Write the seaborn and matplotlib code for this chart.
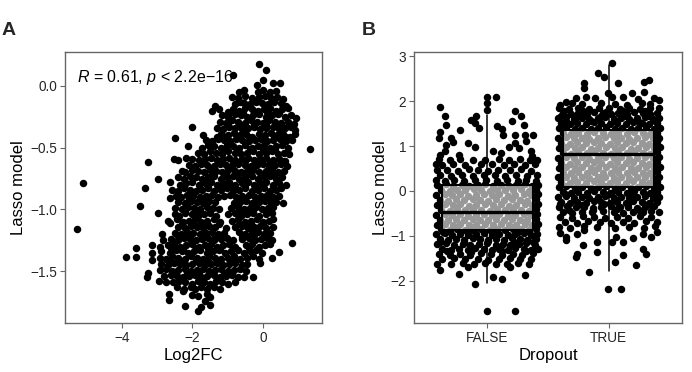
import matplotlib
matplotlib.use("Agg")
import matplotlib.pyplot as plt
import seaborn as sns
import pandas as pd

# ---------------- Panel A data: Log2FC vs Lasso model ----------------
log2fc = [
    -0.10, 0.10, 0.00, -0.84, -0.18, 0.48, 0.30,
    -0.54, 0.00, 0.20, -0.14, 0.38, -0.68,
    -0.89, -0.70, -0.50, -0.30, -0.12, 0.05, 0.22, 0.40, 0.58,
    -1.37, -0.80, -0.66, -0.55, -0.38, -0.20, -0.02, 0.15, 0.32, 0.50, 0.66,
    -1.45, -1.25, -0.98, -0.85, -0.68, -0.50, -0.32, -0.15, 0.02, 0.20, 0.38, 0.55, 0.72,
    -1.15, -0.98, -0.80, -0.62, -0.45, -0.28, -0.10, 0.08, 0.26, 0.44, 0.62, 0.80, 0.95,
    -1.22, -1.05, -0.88, -0.70, -0.52, -0.35, -0.18, 0.00, 0.18, 0.35, 0.52, 0.70, 0.88,
    -2.02, -1.30, -1.12, -0.95, -0.78, -0.60, -0.42, -0.25, -0.08, 0.10, 0.28, 0.45, 0.62, 0.80, 0.92,
    -1.69, -1.31, -1.18, -1.00, -0.83, -0.65, -0.48, -0.30, -0.12, 0.05, 0.22, 0.40, 0.58, 0.76, 0.90,
    -2.50, -1.62, -1.45, -1.28, -1.10, -0.92, -0.75, -0.58, -0.40, -0.22, -0.05, 0.12, 0.30, 0.48, 0.65, 0.82,
    -2.12, -1.72, -1.55, -1.38, -1.20, -1.02, -0.85, -0.68, -0.50, -0.32, -0.15, 0.02, 0.20, 0.38, 0.55, 0.72, 1.33,
    -1.85, -1.68, -1.50, -1.32, -1.15, -0.98, -0.80, -0.62, -0.45, -0.28, -0.10, 0.08, 0.25, 0.42, 0.60, 0.74,
    -2.53, -2.41, -2.17, -2.00, -1.82, -1.65, -1.48, -1.30, -1.12, -0.95, -0.78, -0.60, -0.42, -0.25, -0.08, 0.10, 0.28, 0.45, 0.62,
    -3.25, -2.10, -1.92, -1.75, -1.58, -1.40, -1.22, -1.05, -0.88, -0.70, -0.52, -0.35, -0.18, 0.00, 0.18, 0.35, 0.52, 0.68,
    -2.31, -2.20, -2.02, -1.85, -1.68, -1.50, -1.32, -1.15, -0.98, -0.80, -0.62, -0.45, -0.28, -0.10, 0.08, 0.25, 0.42, 0.60,
    -2.97, -2.40, -2.25, -2.08, -1.90, -1.72, -1.55, -1.38, -1.20, -1.02, -0.85, -0.68, -0.50, -0.32, -0.15, 0.02, 0.20, 0.38, 0.55,
    -5.10, -2.64, -2.35, -2.18, -2.00, -1.82, -1.65, -1.48, -1.30, -1.12, -0.95, -0.78, -0.60, -0.42, -0.25, -0.08, 0.10, 0.28, 0.45, 0.67,
    -3.35, -2.58, -2.42, -2.25, -2.08, -1.90, -1.72, -1.55, -1.38, -1.20, -1.02, -0.85, -0.68, -0.50, -0.32, -0.15, 0.02, 0.20, 0.38, 0.52,
    -2.64, -2.48, -2.32, -2.15, -1.98, -1.80, -1.62, -1.45, -1.28, -1.10, -0.92, -0.75, -0.58, -0.40, -0.22, -0.05, 0.12, 0.30, 0.45,
    -2.40, -2.22, -2.05, -1.88, -1.70, -1.52, -1.35, -0.82, -0.65, -0.48, -0.30, -0.12, 0.05, 0.22, 0.38, 0.56,
    -3.49, -2.50, -2.30, -2.12, -1.95, -1.78, -1.60, -1.42, -1.25, -0.90, -0.72, -0.55, -0.38, -0.20, -0.02, 0.15, 0.30,
    -2.99, -2.50, -2.38, -2.20, -2.02, -1.85, -1.68, -1.50, -1.32, -0.98, -0.80, -0.62, -0.45, -0.28, -0.10, 0.08, 0.25,
    -2.69, -2.45, -2.28, -2.10, -1.92, -1.75, -1.58, -1.40, -1.22, -0.88, -0.70, -0.52, -0.35, -0.18, 0.00, 0.18, 0.30,
    -5.29, -2.64, -2.40, -2.22, -2.05, -1.88, -1.70, -1.52, -1.35, -1.05, -0.78, -0.60, -0.42, -0.25, -0.08, 0.10, 0.28,
    -2.87, -2.50, -2.32, -2.15, -1.98, -1.80, -1.62, -1.45, -1.28, -1.10, -0.68, -0.50, -0.32, -0.15, 0.02, 0.20,
    -2.83, -2.60, -2.42, -2.25, -2.08, -1.90, -1.72, -1.55, -1.38, -1.20, -1.02, -0.85, -0.58, -0.40, -0.22, -0.05, 0.12, 0.27,
    -3.16, -3.60, -2.92, -2.70, -2.52, -2.35, -2.18, -2.00, -1.82, -1.65, -1.48, -1.30, -1.12, -0.95, -0.78, -0.48, -0.30, -0.12, 0.05, 0.20, 0.83,
    -3.16, -2.88, -2.65, -2.48, -2.30, -2.12, -1.95, -1.78, -1.60, -1.42, -1.25, -1.08, -0.90, -0.72, -0.55, -0.38, -0.20, -0.02, 0.45,
    -3.89, -3.60, -2.92, -2.75, -2.58, -2.40, -2.22, -2.05, -1.88, -1.70, -1.52, -1.35, -1.18, -1.00, -0.82, -0.65, -0.45, -0.28, -0.10, 0.26,
    -3.16, -2.88, -2.70, -2.52, -2.35, -2.18, -2.00, -1.82, -1.65, -1.48, -1.30, -1.12, -0.95, -0.78, -0.60, -0.45, -0.08,
    -2.92, -2.75, -2.58, -2.40, -2.22, -2.05, -1.88, -1.70, -1.52, -1.35, -1.18, -1.00, -0.82, -0.65, -0.48,
    -3.25, -3.28, -2.80, -2.62, -2.45, -2.28, -2.10, -1.92, -1.75, -1.58, -1.40, -1.22, -1.05, -0.88, -0.70, -0.55, -0.27,
    -2.95, -2.75, -2.55, -2.38, -2.20, -2.02, -1.85, -1.68, -1.50, -1.32, -1.15, -0.98, -0.80,
    -2.45, -2.24, -2.05, -1.93, -1.75, -1.58, -1.40, -1.22,
    -2.67, -2.02, -1.60, -1.50, -2.26, -1.85,
    -2.67, -2.21, -1.83, -1.77, -1.50, -1.65,
    # denser core
    -0.90, -0.56, -0.23, 0.11, 0.46,
    -1.00, -0.61, -0.26, 0.10, 0.44, 0.75,
    -1.09, -0.74, -0.39, -0.04, 0.31, 0.66,
    -1.11, -0.71, -0.36, -0.01, 0.33,
    -1.21, -0.86, -0.51, -0.16, 0.19, 0.53,
    -1.41, -1.06, -0.71, -0.36, -0.01, 0.33,
    -1.56, -1.21, -0.86, -0.51, -0.16, 0.28,
    -2.10, -1.71, -0.56, -0.21, 0.14,
    -2.21, -1.86, -1.51, -0.63, -0.29,
    -2.31, -1.96, -1.61, -1.26, -0.69, -0.34, 0.01,
    -2.41, -2.06, -1.71, -1.36, -0.59, -0.24,
    -2.61, -2.26, -1.91, -1.56, -1.21, -0.86, -0.39,
    -2.61, -2.26, -1.91, -1.56, -1.21, -0.86,
    -2.51, -2.16, -1.81, -1.46, -1.11,
]
lasso_a = [
    0.18, 0.13, 0.05, 0.09, 0.01, 0.02, 0.02,
    -0.03, -0.03, -0.05, -0.05, -0.04, -0.05,
    -0.09, -0.10, -0.08, -0.10, -0.09, -0.08, -0.10, -0.09, -0.11,
    -0.16, -0.15, -0.13, -0.14, -0.15, -0.13, -0.14, -0.15, -0.13, -0.14, -0.16,
    -0.20, -0.19, -0.21, -0.19, -0.20, -0.18, -0.19, -0.20, -0.19, -0.18, -0.20, -0.19, -0.18,
    -0.24, -0.25, -0.23, -0.24, -0.25, -0.24, -0.23, -0.25, -0.24, -0.23, -0.25, -0.24, -0.26,
    -0.29, -0.30, -0.28, -0.29, -0.30, -0.28, -0.29, -0.30, -0.28, -0.29, -0.30, -0.29, -0.31,
    -0.33, -0.34, -0.35, -0.33, -0.34, -0.35, -0.34, -0.33, -0.35, -0.34, -0.33, -0.35, -0.34, -0.33, -0.36,
    -0.40, -0.41, -0.39, -0.40, -0.38, -0.40, -0.39, -0.41, -0.39, -0.40, -0.38, -0.40, -0.39, -0.41, -0.39,
    -0.42, -0.44, -0.45, -0.43, -0.44, -0.45, -0.43, -0.44, -0.45, -0.44, -0.43, -0.45, -0.44, -0.43, -0.45, -0.44,
    -0.49, -0.50, -0.48, -0.49, -0.50, -0.48, -0.49, -0.50, -0.48, -0.50, -0.49, -0.48, -0.50, -0.49, -0.48, -0.50, -0.51,
    -0.54, -0.55, -0.53, -0.54, -0.55, -0.53, -0.54, -0.55, -0.54, -0.53, -0.55, -0.54, -0.53, -0.55, -0.54, -0.55,
    -0.59, -0.60, -0.58, -0.59, -0.60, -0.59, -0.58, -0.60, -0.59, -0.58, -0.60, -0.59, -0.58, -0.60, -0.59, -0.58, -0.60, -0.59, -0.61,
    -0.62, -0.64, -0.65, -0.63, -0.64, -0.65, -0.63, -0.64, -0.65, -0.63, -0.64, -0.65, -0.64, -0.63, -0.65, -0.64, -0.63, -0.65,
    -0.69, -0.70, -0.68, -0.69, -0.70, -0.68, -0.69, -0.70, -0.68, -0.69, -0.70, -0.69, -0.68, -0.70, -0.69, -0.68, -0.70, -0.69,
    -0.75, -0.74, -0.75, -0.73, -0.74, -0.75, -0.74, -0.73, -0.75, -0.74, -0.73, -0.75, -0.74, -0.73, -0.75, -0.74, -0.73, -0.75, -0.74,
    -0.79, -0.78, -0.80, -0.79, -0.78, -0.80, -0.79, -0.78, -0.80, -0.79, -0.78, -0.80, -0.79, -0.78, -0.80, -0.79, -0.78, -0.80, -0.79, -0.80,
    -0.83, -0.84, -0.85, -0.83, -0.84, -0.85, -0.84, -0.83, -0.85, -0.84, -0.83, -0.85, -0.84, -0.83, -0.85, -0.84, -0.83, -0.85, -0.84, -0.83,
    -0.91, -0.89, -0.90, -0.88, -0.89, -0.90, -0.89, -0.88, -0.90, -0.89, -0.88, -0.90, -0.89, -0.88, -0.90, -0.89, -0.88, -0.90, -0.89,
    -0.94, -0.95, -0.93, -0.94, -0.95, -0.93, -0.94, -0.95, -0.94, -0.93, -0.95, -0.94, -0.93, -0.95, -0.94, -0.95,
    -0.97, -0.99, -1.00, -0.98, -0.99, -1.00, -0.98, -0.99, -1.00, -0.99, -0.98, -1.00, -0.99, -0.98, -1.00, -0.99, -0.98,
    -1.03, -1.04, -1.05, -1.03, -1.04, -1.05, -1.04, -1.03, -1.05, -1.04, -1.03, -1.05, -1.04, -1.03, -1.05, -1.04, -1.03,
    -1.09, -1.08, -1.10, -1.09, -1.08, -1.10, -1.09, -1.08, -1.10, -1.09, -1.08, -1.10, -1.09, -1.08, -1.10, -1.09, -1.08,
    -1.155, -1.11, -1.14, -1.15, -1.13, -1.14, -1.15, -1.13, -1.14, -1.15, -1.14, -1.13, -1.15, -1.14, -1.13, -1.15, -1.14,
    -1.20, -1.19, -1.20, -1.18, -1.19, -1.20, -1.19, -1.18, -1.20, -1.19, -1.18, -1.20, -1.19, -1.18, -1.20, -1.19,
    -1.25, -1.24, -1.25, -1.23, -1.24, -1.25, -1.24, -1.23, -1.25, -1.24, -1.23, -1.25, -1.24, -1.23, -1.25, -1.24, -1.23, -1.25,
    -1.29, -1.31, -1.30, -1.29, -1.28, -1.30, -1.29, -1.28, -1.30, -1.29, -1.28, -1.30, -1.29, -1.28, -1.30, -1.29, -1.28, -1.30, -1.29, -1.28, -1.27,
    -1.35, -1.34, -1.35, -1.33, -1.34, -1.35, -1.34, -1.33, -1.35, -1.34, -1.33, -1.35, -1.34, -1.33, -1.35, -1.34, -1.33, -1.35, -1.345,
    -1.385, -1.385, -1.39, -1.40, -1.38, -1.39, -1.40, -1.38, -1.39, -1.40, -1.38, -1.39, -1.40, -1.39, -1.38, -1.40, -1.39, -1.38, -1.40, -1.39,
    -1.41, -1.44, -1.45, -1.43, -1.44, -1.45, -1.44, -1.43, -1.45, -1.44, -1.43, -1.45, -1.44, -1.43, -1.45, -1.44, -1.43,
    -1.49, -1.48, -1.50, -1.49, -1.48, -1.50, -1.49, -1.48, -1.50, -1.49, -1.48, -1.50, -1.49, -1.48, -1.50,
    -1.515, -1.55, -1.54, -1.53, -1.54, -1.55, -1.54, -1.53, -1.55, -1.54, -1.53, -1.55, -1.54, -1.53, -1.55, -1.55, -1.55,
    -1.575, -1.59, -1.59, -1.58, -1.59, -1.60, -1.58, -1.59, -1.60, -1.58, -1.59, -1.60, -1.59,
    -1.63, -1.645, -1.63, -1.64, -1.63, -1.64, -1.63, -1.64,
    -1.68, -1.69, -1.68, -1.71, -1.66, -1.70,
    -1.73, -1.78, -1.82, -1.79, -1.77, -1.74,
    # denser core
    -0.215, -0.22, -0.21, -0.215, -0.22,
    -0.315, -0.32, -0.31, -0.315, -0.32, -0.31,
    -0.415, -0.42, -0.41, -0.415, -0.42, -0.41,
    -0.515, -0.52, -0.51, -0.515, -0.52,
    -0.615, -0.62, -0.61, -0.615, -0.62, -0.61,
    -0.715, -0.72, -0.71, -0.715, -0.72, -0.71,
    -0.815, -0.82, -0.81, -0.815, -0.82, -0.81,
    -0.915, -0.92, -0.91, -0.915, -0.92,
    -1.015, -1.02, -1.01, -1.015, -1.02,
    -1.115, -1.12, -1.11, -1.115, -1.12, -1.11, -1.115,
    -1.215, -1.22, -1.21, -1.215, -1.22, -1.21,
    -1.315, -1.32, -1.31, -1.315, -1.32, -1.31, -1.315,
    -1.415, -1.42, -1.41, -1.415, -1.42, -1.41,
    -1.515, -1.52, -1.51, -1.515, -1.52,
]

# ---------------- Panel B data: Lasso model by Dropout ----------------
dropout_levels = ["FALSE", "TRUE"]

false_jitter = [
    0.00, 0.07, 0.00, 0.00, -0.39, 0.23, 0.28, -0.35, -0.09, -0.13,
    -0.10, -0.34, 0.30, 0.08, -0.07, 0.12, -0.39, 0.13, 0.23, 0.31,
    0.38, -0.40, -0.30, -0.16, 0.23, -0.34, -0.10, 0.18, 0.26, -0.35,
    0.05, 0.36, 0.11, -0.23, -0.39, 0.37, 0.20, -0.22, 0.32, -0.28,
    -0.40, -0.31, -0.22, -0.12, -0.02, 0.10, 0.18, 0.27, 0.35, 0.41,
    -0.37, -0.28, -0.18, -0.05, 0.04, 0.14, 0.22, 0.31, 0.39, -0.42,
    -0.41, -0.33, -0.24, -0.15, -0.08, 0.01, 0.09, 0.19, 0.28, 0.36,
    -0.39, -0.30, -0.21, -0.12, -0.03, 0.06, 0.15, 0.24, 0.33, 0.41,
    -0.42, -0.35, -0.27, -0.19, -0.10, -0.01, 0.08, 0.16, 0.25, 0.32, 0.40,
    -0.41, -0.34, -0.28, -0.21, -0.15, -0.08, -0.02, 0.05, 0.11, 0.18, 0.24, 0.31, 0.37, 0.42,
    -0.38, -0.31, -0.25, -0.18, -0.11, -0.05, 0.02, 0.08, 0.15, 0.21, 0.28, 0.34, 0.40,
    -0.42, -0.35, -0.29, -0.22, -0.16, -0.09, -0.03, 0.04, 0.10, 0.17, 0.23, 0.30, 0.36, 0.42,
    -0.39, -0.32, -0.26, -0.19, -0.12, -0.06, 0.01, 0.07, 0.14, 0.20, 0.27, 0.33, 0.40,
    -0.41, -0.35, -0.28, -0.22, -0.15, -0.09, -0.02, 0.05, 0.11, 0.18, 0.24, 0.31, 0.37, 0.42,
    -0.38, -0.31, -0.25, -0.18, -0.12, -0.05, 0.02, 0.08, 0.15, 0.21, 0.28, 0.34, 0.40,
    -0.42, -0.35, -0.29, -0.22, -0.16, -0.09, -0.03, 0.04, 0.10, 0.17, 0.23, 0.30, 0.36, 0.41,
    -0.39, -0.32, -0.26, -0.19, -0.12, -0.06, 0.01, 0.07, 0.14, 0.20, 0.27, 0.33, 0.40,
    -0.41, -0.35, -0.28, -0.22, -0.15, -0.09, -0.02, 0.05, 0.11, 0.18, 0.24, 0.31, 0.37, 0.42,
    -0.38, -0.31, -0.25, -0.18, -0.12, -0.05, 0.02, 0.08, 0.15, 0.21, 0.28, 0.34, 0.40,
    -0.42, -0.35, -0.29, -0.22, -0.16, -0.09, -0.03, 0.04, 0.10, 0.17, 0.23, 0.30, 0.36, 0.41,
    -0.39, -0.32, -0.26, -0.19, -0.12, -0.06, 0.01, 0.07, 0.14, 0.20, 0.27, 0.33, 0.40,
    -0.41, -0.34, -0.27, -0.20, -0.14, -0.07, 0.00, 0.07, 0.13, 0.19, 0.26, 0.32, 0.39,
    -0.37, -0.30, -0.23, -0.16, -0.10, -0.03, 0.04, 0.10, 0.17, 0.23, 0.30, 0.36, 0.42,
    -0.40, -0.31, -0.22, -0.14, -0.05, 0.03, 0.12, 0.21, 0.29, 0.38,
    -0.37, -0.27, -0.18, -0.08, 0.01, 0.10, 0.19, 0.27, 0.36,
    -0.41, -0.30, -0.20, -0.11, -0.02, 0.07, 0.16, 0.25, 0.34,
    -0.39, -0.23, -0.16, -0.10, 0.05, 0.12, 0.19, 0.31, 0.00, 0.23,
    -0.36, -0.15, 0.05, 0.25,
    -0.39, -0.19, 0.01, 0.22, 0.38,
    -0.33, -0.13, 0.12, 0.32,
]
false_lasso = [
    2.10, 2.10, 1.96, 1.81, 1.88, 1.78, 1.66, 1.66, 1.66, 1.58,
    1.51, 1.47, 1.47, 1.44, 1.40, 1.37, 1.32, 1.25, 1.25, 1.25,
    1.25, 1.17, 1.17, 1.06, 1.06, 1.03, 0.98, 0.98, 0.95, 0.88,
    0.88, 0.88, 0.84, 0.80, 0.80, 0.77, 1.55, 1.36, 1.12, 1.10,
    0.71, 0.69, 0.72, 0.68, 0.70, 0.72, 0.69, 0.71, 0.68, 0.70,
    0.58, 0.60, 0.57, 0.59, 0.61, 0.58, 0.60, 0.57, 0.59, 0.61,
    0.46, 0.47, 0.45, 0.48, 0.46, 0.45, 0.47, 0.46, 0.48, 0.45,
    0.35, 0.34, 0.36, 0.33, 0.35, 0.36, 0.34, 0.35, 0.33, 0.36,
    0.24, 0.23, 0.25, 0.22, 0.24, 0.25, 0.23, 0.24, 0.22, 0.25, 0.23,
    0.13, 0.15, 0.12, 0.14, 0.11, 0.13, 0.15, 0.12, 0.14, 0.11, 0.13, 0.15, 0.12, 0.14,
    0.02, 0.00, 0.03, 0.01, 0.04, 0.02, 0.00, 0.03, 0.01, 0.02, 0.04, 0.00, 0.02,
    -0.09, -0.07, -0.10, -0.08, -0.11, -0.09, -0.07, -0.10, -0.08, -0.11, -0.09, -0.07, -0.10, -0.08,
    -0.20, -0.22, -0.19, -0.21, -0.18, -0.20, -0.22, -0.19, -0.21, -0.18, -0.20, -0.22, -0.19,
    -0.31, -0.29, -0.32, -0.30, -0.33, -0.31, -0.29, -0.32, -0.30, -0.33, -0.31, -0.29, -0.32, -0.30,
    -0.42, -0.44, -0.41, -0.43, -0.40, -0.42, -0.44, -0.41, -0.43, -0.40, -0.42, -0.44, -0.41,
    -0.53, -0.51, -0.54, -0.52, -0.55, -0.53, -0.51, -0.54, -0.52, -0.55, -0.53, -0.51, -0.54, -0.52,
    -0.64, -0.66, -0.63, -0.65, -0.62, -0.64, -0.66, -0.63, -0.65, -0.62, -0.64, -0.66, -0.63,
    -0.75, -0.73, -0.76, -0.74, -0.77, -0.75, -0.73, -0.76, -0.74, -0.77, -0.75, -0.73, -0.76, -0.74,
    -0.86, -0.88, -0.85, -0.87, -0.84, -0.86, -0.88, -0.85, -0.87, -0.84, -0.86, -0.88, -0.85,
    -0.97, -0.95, -0.98, -0.96, -0.99, -0.97, -0.95, -0.98, -0.96, -0.99, -0.97, -0.95, -0.98, -0.96,
    -1.08, -1.10, -1.07, -1.09, -1.06, -1.08, -1.10, -1.07, -1.09, -1.06, -1.08, -1.10, -1.07,
    -1.19, -1.17, -1.20, -1.18, -1.21, -1.19, -1.17, -1.20, -1.18, -1.21, -1.19, -1.17, -1.20,
    -1.30, -1.32, -1.29, -1.31, -1.28, -1.30, -1.32, -1.29, -1.31, -1.28, -1.30, -1.32, -1.29,
    -1.41, -1.43, -1.40, -1.42, -1.39, -1.41, -1.43, -1.40, -1.42, -1.39,
    -1.52, -1.50, -1.53, -1.51, -1.54, -1.52, -1.50, -1.53, -1.51,
    -1.62, -1.64, -1.61, -1.63, -1.60, -1.62, -1.64, -1.61, -1.63,
    -1.77, -1.85, -1.70, -2.07, -1.92, -1.96, -1.70, -1.88, -2.69, -2.69,
    -0.92, -0.91, -0.93, -0.92,
    -1.13, -1.14, -1.12, -1.13, -1.14,
    -1.35, -1.36, -1.34, -1.35,
]

true_jitter = [
    0.03, -0.09, -0.04, 0.08, 0.29, 0.33, -0.20, -0.20, -0.27, -0.19,
    -0.11, -0.01, 0.03, 0.12, 0.19, 0.29, 0.37, 0.41, -0.35, 0.24,
    -0.30, -0.22, -0.06, 0.05, 0.15, 0.27, 0.34, -0.40,
    -0.41, -0.33, -0.25, -0.16, -0.08, 0.00, 0.09, 0.17, 0.26, 0.34, 0.41,
    -0.38, -0.31, -0.25, -0.18, -0.12, -0.05, 0.02, 0.08, 0.15, 0.21, 0.28, 0.34, 0.40,
    -0.42, -0.35, -0.29, -0.22, -0.16, -0.09, -0.03, 0.04, 0.10, 0.17, 0.23, 0.30, 0.36, 0.41,
    -0.39, -0.32, -0.26, -0.19, -0.12, -0.06, 0.01, 0.07, 0.14, 0.20, 0.27, 0.33, 0.40,
    -0.41, -0.35, -0.28, -0.22, -0.15, -0.09, -0.02, 0.05, 0.11, 0.18, 0.24, 0.31, 0.37, 0.42,
    -0.38, -0.31, -0.25, -0.18, -0.12, -0.05, 0.02, 0.08, 0.15, 0.21, 0.28, 0.34, 0.40,
    -0.42, -0.35, -0.29, -0.22, -0.16, -0.09, -0.03, 0.04, 0.10, 0.17, 0.23, 0.30, 0.36, 0.41,
    -0.39, -0.32, -0.26, -0.19, -0.12, -0.06, 0.01, 0.07, 0.14, 0.20, 0.27, 0.33, 0.40,
    -0.41, -0.35, -0.28, -0.22, -0.15, -0.09, -0.02, 0.05, 0.11, 0.18, 0.24, 0.31, 0.37, 0.42,
    -0.38, -0.31, -0.25, -0.18, -0.12, -0.05, 0.02, 0.08, 0.15, 0.21, 0.28, 0.34, 0.40,
    -0.42, -0.35, -0.29, -0.22, -0.16, -0.09, -0.03, 0.04, 0.10, 0.17, 0.23, 0.30, 0.36, 0.41,
    -0.39, -0.32, -0.26, -0.19, -0.12, -0.06, 0.01, 0.07, 0.14, 0.20, 0.27, 0.33, 0.40,
    -0.41, -0.35, -0.28, -0.22, -0.15, -0.09, -0.02, 0.05, 0.11, 0.18, 0.24, 0.31, 0.37, 0.42,
    -0.38, -0.31, -0.25, -0.18, -0.12, -0.05, 0.02, 0.08, 0.15, 0.21, 0.28, 0.34, 0.40,
    -0.42, -0.35, -0.29, -0.22, -0.16, -0.09, -0.03, 0.04, 0.10, 0.17, 0.23, 0.30, 0.36, 0.41,
    -0.39, -0.32, -0.26, -0.19, -0.12, -0.06, 0.01, 0.07, 0.14, 0.20, 0.27, 0.33, 0.40,
    -0.41, -0.35, -0.28, -0.22, -0.15, -0.09, -0.02, 0.05, 0.11, 0.18, 0.24, 0.31, 0.37, 0.42,
    -0.38, -0.31, -0.25, -0.18, -0.12, -0.05, 0.02, 0.08, 0.15, 0.21, 0.28, 0.34, 0.40,
    -0.42, -0.35, -0.29, -0.22, -0.16, -0.09, -0.03, 0.04, 0.10, 0.17, 0.23, 0.30, 0.36, 0.41,
    -0.39, -0.32, -0.26, -0.19, -0.12, -0.06, 0.01, 0.07, 0.14, 0.20, 0.27, 0.33, 0.40,
    -0.41, -0.34, -0.27, -0.20, -0.13, -0.06, 0.02, 0.09, 0.16, 0.23, 0.30, 0.37,
    -0.38, -0.30, -0.22, -0.14, -0.05, 0.04, 0.12, 0.20, 0.28, 0.35, 0.41,
    -0.40, -0.30, -0.21, -0.12, -0.03, 0.07, 0.16, 0.26, 0.35,
    -0.36, -0.26, -0.17, -0.07, 0.02, 0.12, 0.21, 0.31, 0.40,
    -0.41, -0.32, -0.20, -0.10, 0.05, 0.17, 0.29, 0.38,
    -0.35, -0.35, -0.26, -0.20, -0.21, -0.26, -0.27, -0.10, -0.10, -0.16,
    0.03, 0.06, 0.12, 0.20, 0.28, 0.35, 0.28, 0.31, 0.12, 0.05,
    0.22, -0.01, 0.10, 0.40, -0.40,
    -0.37, -0.21, -0.02, 0.12, 0.30,
    -0.39, -0.26, -0.06, 0.14, 0.33,
    -0.35, -0.15, 0.05, 0.24, 0.38,
    -0.36, -0.18, 0.00, 0.19, 0.38,
    -0.40, -0.22, -0.04, 0.16, 0.35,
    -0.33, -0.13, 0.07, 0.25,
]
true_lasso = [
    2.85, 2.63, 2.54, 2.40, 2.44, 2.48, 2.40, 2.29, 2.07, 2.10,
    2.07, 2.18, 2.10, 2.10, 2.18, 2.21, 2.07, 2.02, 1.98, 2.05,
    1.95, 1.93, 1.96, 1.94, 1.92, 1.95, 1.93, 1.91,
    1.84, 1.82, 1.85, 1.83, 1.86, 1.84, 1.82, 1.85, 1.83, 1.86, 1.84,
    1.73, 1.71, 1.74, 1.72, 1.75, 1.73, 1.71, 1.74, 1.72, 1.75, 1.73, 1.71, 1.74,
    1.62, 1.64, 1.61, 1.63, 1.60, 1.62, 1.64, 1.61, 1.63, 1.60, 1.62, 1.64, 1.61, 1.63,
    1.51, 1.49, 1.52, 1.50, 1.53, 1.51, 1.49, 1.52, 1.50, 1.53, 1.51, 1.49, 1.52,
    1.40, 1.42, 1.39, 1.41, 1.38, 1.40, 1.42, 1.39, 1.41, 1.38, 1.40, 1.42, 1.39, 1.41,
    1.29, 1.27, 1.30, 1.28, 1.31, 1.29, 1.27, 1.30, 1.28, 1.31, 1.29, 1.27, 1.30,
    1.18, 1.20, 1.17, 1.19, 1.16, 1.18, 1.20, 1.17, 1.19, 1.16, 1.18, 1.20, 1.17, 1.19,
    1.07, 1.05, 1.08, 1.06, 1.09, 1.07, 1.05, 1.08, 1.06, 1.09, 1.07, 1.05, 1.08,
    0.96, 0.98, 0.95, 0.97, 0.94, 0.96, 0.98, 0.95, 0.97, 0.94, 0.96, 0.98, 0.95, 0.97,
    0.85, 0.83, 0.86, 0.84, 0.87, 0.85, 0.83, 0.86, 0.84, 0.87, 0.85, 0.83, 0.86,
    0.74, 0.76, 0.73, 0.75, 0.72, 0.74, 0.76, 0.73, 0.75, 0.72, 0.74, 0.76, 0.73, 0.75,
    0.63, 0.61, 0.64, 0.62, 0.65, 0.63, 0.61, 0.64, 0.62, 0.65, 0.63, 0.61, 0.64,
    0.52, 0.54, 0.51, 0.53, 0.50, 0.52, 0.54, 0.51, 0.53, 0.50, 0.52, 0.54, 0.51, 0.53,
    0.41, 0.39, 0.42, 0.40, 0.43, 0.41, 0.39, 0.42, 0.40, 0.43, 0.41, 0.39, 0.42,
    0.30, 0.32, 0.29, 0.31, 0.28, 0.30, 0.32, 0.29, 0.31, 0.28, 0.30, 0.32, 0.29, 0.31,
    0.19, 0.17, 0.20, 0.18, 0.21, 0.19, 0.17, 0.20, 0.18, 0.21, 0.19, 0.17, 0.20,
    0.08, 0.10, 0.07, 0.09, 0.06, 0.08, 0.10, 0.07, 0.09, 0.06, 0.08, 0.10, 0.07, 0.09,
    -0.03, -0.05, -0.02, -0.04, -0.01, -0.03, -0.05, -0.02, -0.04, -0.01, -0.03, -0.05, -0.02,
    -0.14, -0.12, -0.15, -0.13, -0.16, -0.14, -0.12, -0.15, -0.13, -0.16, -0.14, -0.12, -0.15, -0.13,
    -0.25, -0.27, -0.24, -0.26, -0.23, -0.25, -0.27, -0.24, -0.26, -0.23, -0.25, -0.27, -0.24,
    -0.36, -0.34, -0.37, -0.35, -0.38, -0.36, -0.34, -0.37, -0.35, -0.38, -0.36, -0.34,
    -0.47, -0.49, -0.46, -0.48, -0.45, -0.47, -0.49, -0.46, -0.48, -0.45, -0.47,
    -0.58, -0.60, -0.57, -0.59, -0.61, -0.58, -0.60, -0.57, -0.59,
    -0.69, -0.71, -0.68, -0.70, -0.72, -0.69, -0.71, -0.68, -0.70,
    -0.80, -0.82, -0.79, -0.81, -0.83, -0.80, -0.82, -0.79,
    -1.03, -1.10, -0.96, -0.88, -1.21, -1.40, -1.47, -1.14, -1.36, -1.81,
    -1.14, -1.03, -1.14, -1.06, -0.96, -1.03, -1.29, -1.40, -1.44, -1.59,
    -1.66, -2.19, -2.19, -0.92, -0.95,
    1.78, 1.79, 1.77, 1.78, 1.79,
    1.67, 1.68, 1.66, 1.67, 1.68,
    1.56, 1.57, 1.55, 1.56, 1.57,
    -0.08, -0.09, -0.07, -0.08, -0.09,
    -0.30, -0.31, -0.29, -0.30, -0.31,
    -0.42, -0.43, -0.41, -0.42,
]

# box-plot summary (FALSE, TRUE)
box_q1 = [-0.88, 0.09]
box_median = [-0.46, 0.82]
box_q3 = [0.13, 1.36]
whisker_low = [-2.06, -1.79]
whisker_high = [1.69, 2.81]

# ---------------- styling ----------------
sns.set_theme(style="white")
plt.rcParams["font.family"] = ["Liberation Sans", "DejaVu Sans"]
plt.rcParams["mathtext.fontset"] = "custom"
plt.rcParams["mathtext.rm"] = "Liberation Sans"
plt.rcParams["mathtext.it"] = "Liberation Sans:italic"

SPINE = "#666666"
TICKC = "#262626"
MS = 29

fig = plt.figure(figsize=(6.92, 3.72), dpi=100)
axA = fig.add_axes([65 / 692, 1 - 322.7 / 372, (321.7 - 65) / 692, (322.7 - 51.7) / 372])
axB = fig.add_axes([414.3 / 692, 1 - 322.7 / 372, (681.7 - 414.3) / 692, (322.7 - 51.7) / 372])

# Panel A
dfA = pd.DataFrame({"Log2FC": log2fc, "Lasso model": lasso_a})
sns.scatterplot(data=dfA, x="Log2FC", y="Lasso model", ax=axA, color="black",
                s=MS, linewidth=0, zorder=3)
axA.set_xlim(-5.62, 1.67)
axA.set_ylim(-1.916, 0.276)
axA.set_xticks([-4, -2, 0])
axA.set_yticks([0.0, -0.5, -1.0, -1.5])
axA.set_yticklabels(["0.0", "\u22120.5", "\u22121.0", "\u22121.5"])
axA.set_xticklabels(["\u22124", "\u22122", "0"])
axA.text(-5.28, 0.07, "$R$ = 0.61, $p$ < 2.2e\u221216",
         fontsize=11.5, va="center", ha="left", color="black", zorder=2)

# Panel B
pos = {lvl: i for i, lvl in enumerate(dropout_levels)}
dfB = pd.DataFrame({
    "Dropout": ["FALSE"] * len(false_lasso) + ["TRUE"] * len(true_lasso),
    "jitter": false_jitter + true_jitter,
    "Lasso model": false_lasso + true_lasso,
})
dfB["xpos"] = dfB["Dropout"].map(pos) + dfB["jitter"]
sns.scatterplot(data=dfB, x="xpos", y="Lasso model", ax=axB, color="black",
                s=MS, linewidth=0, zorder=2)
stats = [dict(label=dropout_levels[i], q1=box_q1[i], med=box_median[i], q3=box_q3[i],
              whislo=whisker_low[i], whishi=whisker_high[i], fliers=[])
         for i in range(len(dropout_levels))]
axB.bxp(stats, positions=[0, 1], widths=0.75, patch_artist=True, showfliers=False,
        showcaps=False, zorder=4,
        boxprops=dict(facecolor=(1, 1, 1, 0.6), edgecolor="black", linewidth=1.5),
        medianprops=dict(color="black", linewidth=2.4),
        whiskerprops=dict(color="black", linewidth=1.1))
axB.set_xlim(-0.6, 1.6)
axB.set_ylim(-2.94, 3.105)
axB.set_xticks([0, 1])
axB.set_xticklabels(dropout_levels)
axB.set_yticks([-2, -1, 0, 1, 2, 3])
axB.set_yticklabels(["\u22122", "\u22121", "0", "1", "2", "3"])

for ax, xl in ((axA, "Log2FC"), (axB, "Dropout")):
    for sp in ax.spines.values():
        sp.set_visible(True)
        sp.set_color(SPINE)
        sp.set_linewidth(1.0)
    ax.tick_params(axis="both", which="both", direction="out", length=3.3, width=0.8,
                   color=SPINE, labelcolor=TICKC, labelsize=9.8, pad=2.5,
                   bottom=True, left=True)
    ax.set_xlabel(xl, fontsize=12, color="black")
    ax.set_ylabel("Lasso model", fontsize=12, color="black")
    ax.grid(False)

axA.xaxis.set_label_coords(0.5, -0.095)
axB.xaxis.set_label_coords(0.5, -0.095)
axA.yaxis.set_label_coords(-0.153, 0.5)
axB.yaxis.set_label_coords(-0.099, 0.5)

fig.text(2 / 692, 1 - 35 / 372, "A", fontsize=14, fontweight="bold", ha="left", va="baseline")
fig.text(362 / 692, 1 - 35 / 372, "B", fontsize=14, fontweight="bold", ha="left", va="baseline")

fig.savefig("out.png", dpi=100)
